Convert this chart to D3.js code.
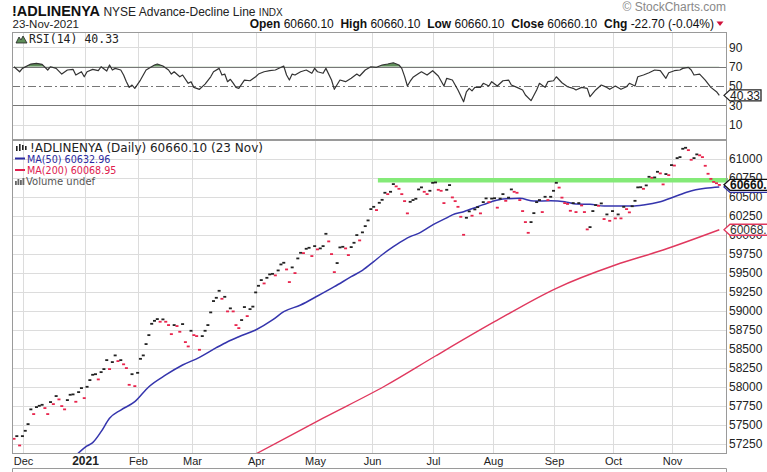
<!DOCTYPE html>
<html><head><meta charset="utf-8">
<script src="https://cdn.jsdelivr.net/npm/d3@7"></script>
<style>body{margin:0;background:#fff}svg{display:block}</style>
</head><body><svg id="c" width="767" height="472"></svg>
<script>
// ---------- data ----------
const startDate = "2020-11-24", endDate = "2021-11-23";
const holidays = ["2020-11-26","2020-12-25","2021-01-01","2021-01-18","2021-02-15","2021-04-02","2021-05-31","2021-07-05","2021-09-06"];
const closes = [
57320,57355,57232,57355,57425,57513,57707,57645,57737,57754,
57767,57724,57645,57803,57776,57882,57838,57750,57707,57829,
57899,57904,57807,57934,57987,57855,58004,58092,58162,58170,
58101,58197,58237,58355,58237,58329,58417,58342,58355,58300,
58250,58030,58170,58013,58188,58372,58417,58566,58684,58833,
58872,58895,58860,58891,58860,58816,58697,58816,58803,58728,
58829,58592,58535,58741,58684,58671,58491,58671,58741,58816,
58983,59132,59175,59267,59162,59188,58996,59036,58996,58816,
58776,58882,59053,58934,59026,59059,59246,59333,59408,59364,
59438,59483,59490,59470,59535,59614,59636,59548,59382,59575,
59500,59693,59767,59763,59820,59833,59724,59855,59812,59825,
59855,60017,59917,59750,59513,59632,59838,59846,59825,59737,
59842,59899,60000,59930,60036,60118,60193,60342,60372,60329,
60425,60464,60557,60539,60570,60671,60641,60609,60539,60447,
60286,60438,60461,60478,60601,60628,60570,60539,60583,60688,
60693,60596,60583,60421,60596,60658,60496,60447,60372,60241,
60004,60228,60312,60255,60338,60368,60286,60434,60483,60434,
60480,60485,60361,60480,60539,60451,60493,60601,60570,60557,
60461,60316,60171,60030,60171,60289,60434,60461,60303,60504,
60461,60504,60583,60688,60625,60493,60421,60410,60320,60421,
60303,60421,60390,60303,60075,60105,60316,60395,60386,60417,
60211,60272,60188,60316,60220,60272,60220,60372,60342,60299,
60380,60451,60628,60630,60609,60654,60767,60754,60759,60833,
60812,60667,60803,60789,60921,60915,61013,61026,61136,61149,
61118,60991,61013,61062,61050,61026,60912,60807,60740,60700,
60682.8,60660.1];
const ma50Days = [22,26,28,31,34,38,43,48,54,60,66,72,76,80,86,92,96,102,108,114,120,124,128,131,135,139,141,144,147,150,154,156,160,165,170,174,180,185,191,196,200,205,210,215,220,224,230,235,240,246,251];
const ma50 = [57100,57224,57268,57412,57588,57697,57807,58004,58158,58289,58390,58517,58596,58662,58750,58882,58991,59079,59197,59320,59451,59535,59650,59740,59846,59940,59978,60022,60088,60154,60225,60265,60307,60372,60438,60474,60483,60447,60451,60438,60408,60404,60382,60382,60382,60395,60438,60504,60570,60614,60632.96];
const ma200Days = [84,87,110,132,150,171,193,214,231,251];
const ma200 = [57080,57138,57590,58013,58408,58859,59299,59605,59803,60068.95];
const rsiDays = [0,2,3,6,8,10,12,13,15,17,19,21,22,24,25,26,28,30,31,33,34,35,36,38,39,40,41,42,43,45,47,50,51,53,55,56,57,59,60,62,63,64,66,68,70,71,73,74,75,76,77,78,79,80,82,84,86,87,89,91,93,96,97,98,99,100,102,104,106,107,108,110,111,113,114,116,118,120,122,123,125,127,129,131,133,135,137,138,139,140,141,142,144,145,147,149,151,153,154,156,158,160,161,162,163,164,166,167,169,170,172,174,176,177,179,181,182,184,186,187,189,190,192,193,195,197,199,200,202,204,205,207,209,211,212,214,216,218,219,221,222,224,226,228,230,232,233,235,237,238,240,241,242,244,246,248,250,251];
const rsi = [70,64.8,68.3,72.8,73.5,72.5,66.6,70,68.3,62.4,66.6,67.3,61.4,64.8,59.6,64.8,67.3,65.9,70,65.5,71.8,66.6,68.3,66.6,61.4,54.5,48.6,51,47.6,56.2,66.6,71.8,72.8,70.7,66.6,62.4,64.8,59.6,61.4,52.8,54.5,48.6,46.6,52,59.6,64.8,68.3,61.4,62.4,54.5,57,53,48.6,47.6,56.2,55.5,59.6,62.4,64.8,65.9,66.6,70.7,61.4,56.2,62.4,61.4,64.8,66.6,63.2,68.3,64.8,63.2,68.3,56.2,46.6,56.2,54.5,58,62.4,60.4,66.6,70,69.4,71.8,72.8,74.1,71.8,68.3,60,50,55,59,63,64.8,61.4,65.9,60.4,50,58,56.2,45.9,33.7,44,47.6,45,48.6,48.6,52.8,50,54.5,50,55.5,56.2,51,48.6,45.9,40.7,34.8,45.9,52.8,48.6,54.5,55.5,59.6,53.4,49.3,47.6,45.9,48.6,47.6,38.9,45.9,51,48.6,46.6,50,46.6,49.3,52.8,50,59.6,61.4,63.8,66.6,65.9,58,63.8,65.9,66.6,68.3,69.4,66.6,61.4,62.4,56.2,48.6,44.1,40.33];
const priceTicks = [57250,57500,57750,58000,58250,58500,58750,59000,59250,59500,59750,60000,60250,60500,60750,61000];
const rsiTicks = [10,30,50,70,90];
const monthLabels = ["Dec","2021","Feb","Mar","Apr","May","Jun","Jul","Aug","Sep","Oct","Nov"];
const resistanceLevel = 60720, resistanceFromDay = 129.5;
const lastClose = 60660.10, lastMA50 = 60632.96, lastMA200 = 60068.95, lastRSI = 40.33;

// ---------- trading days ----------
const days = [];
for (let d = new Date(startDate + "T12:00:00Z"); d <= new Date(endDate + "T12:00:00Z"); d.setUTCDate(d.getUTCDate() + 1)) {
  const wd = d.getUTCDay(), s = d.toISOString().slice(0, 10);
  if (wd > 0 && wd < 6 && !holidays.includes(s)) days.push(s);
}
const monthStarts = [];
days.forEach((s, i) => { if (i > 0 && s.slice(5, 7) !== days[i - 1].slice(5, 7)) monthStarts.push(i); });

// ---------- layout ----------
const W = 767, L = 12, R = 726;
const rsiTop = 32, rsiBot = 139, mainTop = 140, mainBot = 453;
const svg = d3.select("#c");
const FONT = "'Liberation Sans', Arial, sans-serif";
const x = d3.scaleLinear().domain([0, days.length - 1]).range([14, 719.3]);
const y = d3.scaleLinear().domain([57131.6, 61250]).range([mainBot, mainTop]);
const yr = d3.scaleLinear().domain([-4.9, 106]).range([rsiBot, rsiTop]);
const gridX = i => Math.round(x(i) - 2) + 0.5;

const defs = svg.append("defs");
defs.append("clipPath").attr("id", "cm").append("rect").attr("x", L).attr("y", mainTop).attr("width", R - L).attr("height", mainBot - mainTop);
defs.append("clipPath").attr("id", "cr").append("rect").attr("x", L).attr("y", rsiTop).attr("width", R - L).attr("height", rsiBot - rsiTop);
defs.append("clipPath").attr("id", "cob").append("rect").attr("x", L).attr("y", rsiTop).attr("width", R - L).attr("height", yr(70) - rsiTop);

// ---------- header ----------
const hd = svg.append("g").attr("font-family", FONT);
const t1 = hd.append("text").attr("x", 12).attr("y", 15.5);
t1.append("tspan").attr("font-weight", "bold").attr("font-size", 14.5).attr("fill", "#111").text("!ADLINENYA");
t1.append("tspan").attr("font-size", 12).attr("fill", "#222").text(" NYSE Advance-Decline Line ");
t1.append("tspan").attr("font-size", 10).attr("fill", "#222").text("INDX");
hd.append("text").attr("x", 12.5).attr("y", 27.5).attr("font-size", 11.5).attr("fill", "#222").text("23-Nov-2021");
hd.append("text").attr("x", 726).attr("y", 11).attr("text-anchor", "end").attr("font-size", 12).attr("fill", "#888").text("© StockCharts.com");
const t2 = hd.append("text").attr("x", 714).attr("y", 27.5).attr("text-anchor", "end").attr("font-size", 12).attr("fill", "#111");
[["Open", "60660.10"], ["High", "60660.10"], ["Low", "60660.10"], ["Close", "60660.10"], ["Chg", "-22.70 (-0.04%)"]].forEach(([k, v], i) => {
  t2.append("tspan").attr("font-weight", "bold").text((i ? "  " : "") + k + " ");
  t2.append("tspan").attr("font-weight", "normal").text(v);
});
t2.attr("xml:space", "preserve");
hd.append("path").attr("d", "M716.5,21.5 L723.5,21.5 L720,26 Z").attr("fill", "#d0103a");

// ---------- grids ----------
const grid = svg.append("g").attr("stroke", "#dcdcdc").attr("stroke-width", 1);
priceTicks.forEach(v => grid.append("line").attr("x1", L).attr("x2", R).attr("y1", Math.round(y(v)) + 0.5).attr("y2", Math.round(y(v)) + 0.5));
[10, 90].forEach(v => grid.append("line").attr("x1", L).attr("x2", R).attr("y1", Math.round(yr(v)) + 0.5).attr("y2", Math.round(yr(v)) + 0.5));
monthStarts.forEach(i => {
  grid.append("line").attr("x1", gridX(i)).attr("x2", gridX(i)).attr("y1", mainTop).attr("y2", mainBot);
  grid.append("line").attr("x1", gridX(i)).attr("x2", gridX(i)).attr("y1", rsiTop).attr("y2", rsiBot);
});

// ---------- RSI panel ----------
const rg = svg.append("g");
const rsiPts = rsiDays.map((d, i) => [d, rsi[i]]);
rg.append("path").datum(rsiPts).attr("clip-path", "url(#cob)")
  .attr("d", d3.area().x(d => x(d[0])).y0(yr(70)).y1(d => yr(d[1])))
  .attr("fill", "#5f8f5a");
[70, 30].forEach(v => rg.append("line").attr("x1", L).attr("x2", R).attr("y1", Math.round(yr(v)) + 0.5).attr("y2", Math.round(yr(v)) + 0.5).attr("stroke", "#777"));
rg.append("line").attr("x1", L).attr("x2", R).attr("y1", Math.round(yr(50)) + 0.5).attr("y2", Math.round(yr(50)) + 0.5)
  .attr("stroke", "#777").attr("stroke-dasharray", "8,3,2,3");
rg.append("path").datum(rsiPts).attr("clip-path", "url(#cr)")
  .attr("d", d3.line().x(d => x(d[0])).y(d => yr(d[1])))
  .attr("fill", "none").attr("stroke", "#333").attr("stroke-width", 1.2).attr("stroke-linejoin", "round");

// ---------- main panel ----------
const mg = svg.append("g").attr("clip-path", "url(#cm)");
mg.append("line").attr("x1", x(resistanceFromDay)).attr("x2", R + 1).attr("y1", y(resistanceLevel)).attr("y2", y(resistanceLevel))
  .attr("stroke", "#84ea78").attr("stroke-width", 4.5);
mg.append("path").datum(ma200Days.map((d, i) => [d, ma200[i]]))
  .attr("d", d3.line().x(d => x(d[0])).y(d => y(d[1])).curve(d3.curveMonotoneX))
  .attr("fill", "none").attr("stroke", "#e0385e").attr("stroke-width", 1.4);
mg.append("path").datum(ma50Days.map((d, i) => [d, ma50[i]]))
  .attr("d", d3.line().x(d => x(d[0])).y(d => y(d[1])).curve(d3.curveMonotoneX))
  .attr("fill", "none").attr("stroke", "#3535ad").attr("stroke-width", 1.5);
mg.selectAll("rect.px").data(closes).join("rect").attr("class", "px")
  .attr("x", (d, i) => x(i) - 1.5).attr("y", d => y(d) - 0.8).attr("width", 3).attr("height", 1.8)
  .attr("fill", (d, i) => (i > 0 && d >= closes[i - 1]) ? "#222" : "#e8254d");
svg.append("line").attr("x1", R).attr("x2", R + 2).attr("y1", y(resistanceLevel)).attr("y2", y(resistanceLevel)).attr("stroke", "#84ea78").attr("stroke-width", 4.5);

// ---------- frames ----------
const fr = svg.append("g").attr("fill", "none").attr("stroke", "#9a9a9a");
fr.append("rect").attr("x", L + 0.5).attr("y", rsiTop + 0.5).attr("width", R - L).attr("height", rsiBot - rsiTop);
fr.append("rect").attr("x", L + 0.5).attr("y", mainTop + 0.5).attr("width", R - L).attr("height", mainBot - mainTop);
fr.append("path").attr("d", `M${L + 0.5},473 V468.5 H${R + 0.5} V473`);

// ---------- axes ----------
const ax = svg.append("g").attr("font-family", FONT).attr("font-size", 12).attr("fill", "#222");
priceTicks.forEach(v => ax.append("text").attr("x", 729).attr("y", y(v)).attr("dy", "0.36em").text(v));
rsiTicks.forEach(v => ax.append("text").attr("x", 729).attr("y", yr(v)).attr("dy", "0.36em").text(v));
monthStarts.forEach((i, k) => ax.append("text").attr("x", gridX(i)).attr("y", 465).attr("text-anchor", "middle")
  .attr("font-size", monthLabels[k] === "2021" ? 12 : 11).attr("font-weight", monthLabels[k] === "2021" ? "bold" : "normal")
  .text(monthLabels[k]));

// ---------- value tags ----------
function tag(yc, txt, stroke, bold, closed, textFill) {
  const g = svg.append("g"), h = 5.5, x0 = 724, x1 = closed ? 761 : W + 5;
  g.append("path").attr("d", `M${x0},${yc} L${x0 + 6},${yc - h} L${x1},${yc - h} L${x1},${yc + h} L${x0 + 6},${yc + h} Z`)
    .attr("fill", "#fff").attr("stroke", stroke).attr("stroke-width", 1.3);
  g.append("text").attr("x", 730).attr("y", yc).attr("dy", "0.36em").attr("font-family", FONT).attr("font-size", 12)
    .attr("font-weight", bold ? "bold" : "normal").attr("fill", textFill).text(txt);
}
tag(y(lastMA50), lastMA50.toFixed(2), "#2a2aa0", false, false, "#2a2aa0");
tag(y(lastClose), lastClose.toFixed(2), "#111", true, false, "#111");
tag(y(lastMA200), lastMA200.toFixed(2), "#e0385e", false, false, "#333");
tag(yr(lastRSI), lastRSI.toFixed(2), "#222", false, true, "#222");

// ---------- legends ----------
const lg = svg.append("g").attr("font-family", "'DejaVu Sans', Verdana, sans-serif");
lg.append("path").attr("d", "M16,43 L19,37 L21,40 L23,36 L27,43 Z").attr("fill", "#5f8f5a").attr("stroke", "#222").attr("stroke-width", 0.8);
lg.append("text").attr("x", 29).attr("y", 43).attr("font-family", "'DejaVu Sans Mono', monospace").attr("font-size", 11.5).attr("fill", "#222").text("RSI(14) " + lastRSI.toFixed(2));
[[16, 146, 5], [19, 144, 7], [22, 145, 5], [25, 146, 4]].forEach(([bx, by, bh]) => lg.append("rect").attr("x", bx).attr("y", by).attr("width", 1.6).attr("height", bh).attr("fill", "#222"));
lg.append("text").attr("x", 30).attr("y", 152).attr("font-size", 12).attr("fill", "#222").text("!ADLINENYA (Daily) 60660.10 (23 Nov)");
lg.append("line").attr("x1", 15).attr("x2", 25).attr("y1", 158.5).attr("y2", 158.5).attr("stroke", "#2a2aa0").attr("stroke-width", 2);
lg.append("text").attr("x", 27).attr("y", 162.5).attr("font-size", 9.6).attr("fill", "#2a2aa0").text("MA(50) " + lastMA50.toFixed(2));
lg.append("line").attr("x1", 15).attr("x2", 25).attr("y1", 170).attr("y2", 170).attr("stroke", "#e0204f").attr("stroke-width", 2);
lg.append("text").attr("x", 27).attr("y", 174).attr("font-size", 9.6).attr("fill", "#e0204f").text("MA(200) " + lastMA200.toFixed(2));
[[15, 181, 4], [17.5, 179, 6], [20, 180, 5], [22.5, 178, 7]].forEach(([bx, by, bh]) => lg.append("rect").attr("x", bx).attr("y", by).attr("width", 1.8).attr("height", bh).attr("fill", "#666"));
lg.append("text").attr("x", 26).attr("y", 185).attr("font-size", 10).attr("fill", "#555").text("Volume undef");
</script></body></html>
